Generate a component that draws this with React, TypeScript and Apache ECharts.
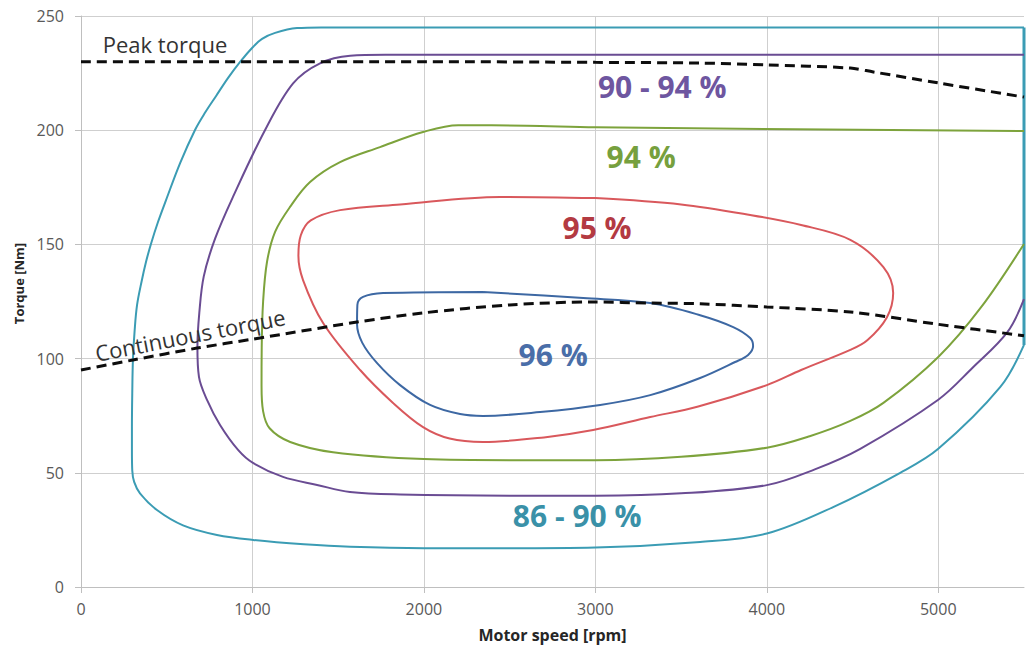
import React, { useEffect, useRef } from 'react';
import * as echarts from 'echarts';

type P = [number, number];

// Axis ticks
const speedTicks = [0, 1000, 2000, 3000, 4000, 5000];

// Dashed torque limits [rpm, Nm]
const peakTorque: P[] = [
  [0, 230], [1000, 230], [2000, 230], [3000, 229.7], [3611, 229.4], [4000, 228.6],
  [4487, 227.2], [4621, 225.5], [5000, 220.7], [5500, 214.5],
];
const continuousTorque: P[] = [
  [0, 95], [303, 99.4], [677, 104.6], [1000, 108.5], [1610, 116], [1995, 120],
  [2500, 123.5], [2987, 124.8], [3320, 124.3], [3611, 124], [4000, 122.6],
  [4487, 120.4], [5000, 115], [5500, 110],
];

// Efficiency contours [rpm, Nm]
const eff86to90: P[] = [
  [5500, 245], [3000, 245], [1400, 245], [1260, 244.7], [1132, 242.6], [1056, 240],
  [1003, 236.4], [928, 229.9], [858, 222.9], [788, 215], [723, 207.6], [665, 200.1],
  [578, 185.6], [496, 169.4], [449, 159.8], [408, 150.2], [379, 142.3], [354, 134],
  [327, 123.5], [313, 112.5], [303, 99.8], [299, 85], [297, 70], [297, 60], [299, 51],
  [310, 46], [344, 41], [443, 33.7], [595, 27], [793, 22.8], [1004, 20.6], [1300, 18.7],
  [1570, 17.6], [2000, 17], [2500, 17], [3000, 17.3], [3611, 19.7], [4000, 23.4],
  [4387, 35], [4778, 50], [5000, 60.5], [5362, 87.6], [5500, 106],
];
const eff86to90Edge: P[] = [[5500, 106], [5500, 245]];
const eff90to94: P[] = [
  [5500, 233], [1774, 233], [1570, 232.6], [1394, 229.3], [1237, 220.5], [1073, 200],
  [887, 170.9], [782, 152.5], [716, 136], [690, 120], [679, 105], [688, 92], [735, 81.9],
  [811, 70.9], [916, 60], [1003, 54.3], [1178, 48.2], [1377, 44.7], [1569, 41.6],
  [1861, 40.5], [2500, 40], [3000, 40], [3500, 41], [4000, 44.6], [4280, 51.5],
  [4545, 60.5], [5000, 82], [5200, 96], [5403, 111.6], [5500, 126],
];
const eff94: P[] = [
  [5500, 199.6], [3000, 201.3], [2600, 202], [2200, 202.2], [1995, 199.2],
  [1744, 192.6], [1511, 186], [1336, 177.3], [1219, 166.4], [1132, 155.5], [1085, 142.4],
  [1062, 124.8], [1054, 105], [1053, 88], [1062, 77], [1100, 69.5], [1220, 63.5],
  [1470, 59], [2000, 56], [2500, 55.5], [3000, 55.5], [3500, 57], [4000, 61], [4250, 66],
  [4487, 72.7], [4680, 80.6], [5000, 100.7], [5250, 122.5], [5500, 150.2],
];
const eff95: P[] = [
  [3000, 170.3], [3500, 167.5], [3903, 162.9], [4200, 158.5], [4487, 152], [4680, 140],
  [4737, 128.7], [4700, 118], [4586, 108], [4487, 103.8], [4200, 95], [4000, 88.4],
  [3600, 79], [3320, 74.4], [2987, 68.7], [2700, 65.5], [2345, 63.5], [2150, 65],
  [1995, 70], [1820, 80.6], [1628, 95], [1412, 115.6], [1295, 134.4], [1268, 145],
  [1282, 154], [1340, 160.5], [1511, 165], [1861, 167.5], [2445, 170.8], [3000, 170.3],
];
const eff96: P[] = [
  [2345, 129.2], [2929, 126.5], [3320, 124.3], [3611, 119], [3804, 113.8], [3903, 109],
  [3920, 105.5], [3891, 101.6], [3815, 98.5], [3611, 91.5], [3320, 84], [3028, 79.7],
  [2678, 76.6], [2345, 74.9], [2211, 75.7], [2036, 79.7], [1861, 88.4], [1727, 98],
  [1640, 107], [1610, 115], [1612, 123.5], [1645, 127], [1762, 128.7], [2345, 129.2],
];

// Text annotations anchored in data coordinates
const annotations: { text: string; at: P; color: string; size: number; bold: boolean; angle: number }[] = [
  { text: 'Peak torque', at: [490, 237.7], color: '#333333', size: 22, bold: false, angle: 0 },
  { text: 'Continuous torque', at: [636, 110.5], color: '#333333', size: 22, bold: false, angle: 11 },
  { text: '90 - 94 %', at: [3390, 219], color: '#6e56a0', size: 30, bold: true, angle: 0 },
  { text: '94 %', at: [3267, 188.3], color: '#76a03e', size: 30, bold: true, angle: 0 },
  { text: '95 %', at: [3010, 157.2], color: '#b33a42', size: 30, bold: true, angle: 0 },
  { text: '96 %', at: [2754, 101.6], color: '#4a6ea8', size: 30, bold: true, angle: 0 },
  { text: '86 - 90 %', at: [2894, 31.1], color: '#3a91a8', size: 30, bold: true, angle: 0 },
];

const FONT = '"Open Sans", "Noto Sans", sans-serif';

export default function App() {
  const ref = useRef<HTMLDivElement>(null);

  useEffect(() => {
    const chart = echarts.init(ref.current!, null, { renderer: 'svg' });

    const contour = (name: string, data: P[], color: string, width = 2, smooth = 0.35) => ({
      name,
      type: 'line',
      data,
      symbol: 'none',
      smooth,
      silent: true,
      lineStyle: { color, width },
      z: 2,
    });
    const dashed = (name: string, data: P[]) => ({
      name,
      type: 'line',
      data,
      symbol: 'none',
      smooth: 0.3,
      silent: true,
      lineStyle: { color: '#0d0d0d', width: 3, type: [10, 6] },
      z: 3,
    });

    chart.setOption({
      animation: false,
      backgroundColor: '#ffffff',
      grid: { left: 81, right: 4, top: 16, bottom: 74, outerBoundsMode: 'none' },
      xAxis: {
        type: 'value',
        min: 0,
        max: 5500,
        interval: 1000,
        name: 'Motor speed [rpm]',
        nameLocation: 'middle',
        nameGap: 40,
        nameTextStyle: { fontFamily: FONT, fontSize: 16, fontWeight: 'bold', color: '#262626' },
        axisLine: { show: true, lineStyle: { color: '#bfbfbf', width: 1 } },
        axisTick: { show: true, length: 6, customValues: speedTicks, lineStyle: { color: '#bfbfbf' } },
        axisLabel: {
          customValues: speedTicks,
          formatter: (v: number) => String(v),
          color: '#595959',
          fontFamily: FONT,
          fontSize: 16,
          margin: 14,
        },
        splitLine: { show: true, lineStyle: { color: '#cfcfcf', width: 1 } },
      },
      yAxis: {
        type: 'value',
        min: 0,
        max: 250,
        interval: 50,
        name: 'Torque [Nm]',
        nameLocation: 'middle',
        nameGap: 56,
        nameTextStyle: { fontFamily: FONT, fontSize: 13, fontWeight: 'bold', color: '#262626', padding: [0, 0, 0, 36] },
        axisLine: { show: true, lineStyle: { color: '#bfbfbf', width: 1 } },
        axisTick: { show: true, length: 6, lineStyle: { color: '#bfbfbf' } },
        axisLabel: { color: '#595959', fontFamily: FONT, fontSize: 16, margin: 17 },
        splitLine: { show: true, lineStyle: { color: '#cfcfcf', width: 1 } },
      },
      series: [
        contour('86 - 90 %', eff86to90, '#3b9cb4'),
        contour('86 - 90 % edge', eff86to90Edge, '#3b9cb4', 3, 0),
        contour('90 - 94 %', eff90to94, '#6a4c93'),
        contour('94 %', eff94, '#7da33c'),
        contour('95 %', eff95, '#d9585c'),
        contour('96 %', eff96, '#3d68a3'),
        dashed('Peak torque', peakTorque),
        dashed('Continuous torque', continuousTorque),
      ],
    });

    const graphics = annotations.map((a) => {
      const [px, py] = chart.convertToPixel({ gridIndex: 0 }, a.at) as number[];
      return {
        type: 'text',
        x: px,
        y: py,
        rotation: (a.angle * Math.PI) / 180,
        silent: true,
        z: 10,
        style: {
          text: a.text,
          fill: a.color,
          font: `${a.bold ? 'bold ' : ''}${a.size}px ${FONT}`,
          align: 'center',
          verticalAlign: 'middle',
          textAlign: 'center',
          textVerticalAlign: 'middle',
        },
      };
    });
    chart.setOption({ graphic: graphics });

    return () => chart.dispose();
  }, []);

  return (
    <div
      ref={ref}
      style={{ position: 'fixed', left: 0, top: 0, width: 1028, height: 661, background: '#ffffff' }}
    />
  );
}
